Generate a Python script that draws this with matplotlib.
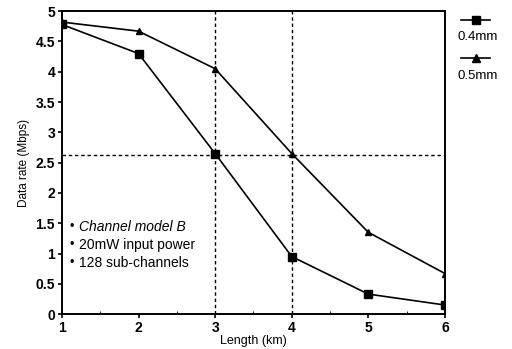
import matplotlib
matplotlib.use("Agg")
import matplotlib.pyplot as plt
from matplotlib.lines import Line2D
from matplotlib.ticker import MultipleLocator, FormatStrFormatter

plt.rcParams["font.family"] = ["Liberation Sans", "DejaVu Sans"]

length_km = [1, 2, 3, 4, 5, 6]
rate_04mm = [4.78, 4.30, 2.65, 0.95, 0.33, 0.15]
rate_05mm = [4.82, 4.67, 4.05, 2.65, 1.35, 0.67]
ref_rate = 2.62
ref_lengths = [3, 4]
notes = ["Channel model B", "20mW input power", "128 sub-channels"]

fig = plt.figure(figsize=(5.12, 3.49), dpi=100)
ax = fig.add_axes([0.121, 0.1, 0.748, 0.868])

ax.plot(length_km, rate_04mm, color="black", lw=1.2, marker="s", ms=6)
ax.plot(length_km, rate_05mm, color="black", lw=1.2, marker="^", ms=4)

dash = (0, (2.5, 2))
ax.axhline(ref_rate, color="black", lw=1.0, ls=dash)
for x in ref_lengths:
    ax.axvline(x, color="black", lw=1.0, ls=dash)

ax.set_xlim(1, 6)
ax.set_ylim(0, 5)
ax.xaxis.set_major_locator(MultipleLocator(1))
ax.xaxis.set_minor_locator(MultipleLocator(0.5))
ax.yaxis.set_major_locator(MultipleLocator(0.5))
ax.yaxis.set_major_formatter(FormatStrFormatter("%g"))
ax.tick_params(axis="both", labelsize=10, length=3, width=1.2, pad=2)
ax.tick_params(axis="x", which="minor", direction="in", length=2)
for lbl in ax.get_xticklabels() + ax.get_yticklabels():
    lbl.set_fontweight("bold")
for s in ax.spines.values():
    s.set_linewidth(1.4)

ax.set_xlabel("Length (km)", fontsize=9, labelpad=0)
ax.set_ylabel("Data rate (Mbps)", fontsize=8.5, labelpad=4)

for i, note in enumerate(notes):
    y = 1.43 - 0.29 * i
    ax.text(1.1, y, "\u2022", fontsize=9, va="center")
    ax.text(1.22, y, note, fontsize=10, va="center",
            style="italic" if i == 0 else "normal")

# legend outside the axes: sample line above each label
for y_line, y_txt, mk, ms, label in [(0.943, 0.894, "s", 6, "0.4mm"),
                                     (0.835, 0.782, "^", 6, "0.5mm")]:
    fig.add_artist(Line2D([0.900, 0.929, 0.957], [y_line] * 3, color="black",
                          lw=1.2, marker=mk, ms=ms, markevery=[1],
                          transform=fig.transFigure))
    fig.text(0.893, y_txt, label, fontsize=9.5, va="center")

fig.savefig("out.png", dpi=100)
